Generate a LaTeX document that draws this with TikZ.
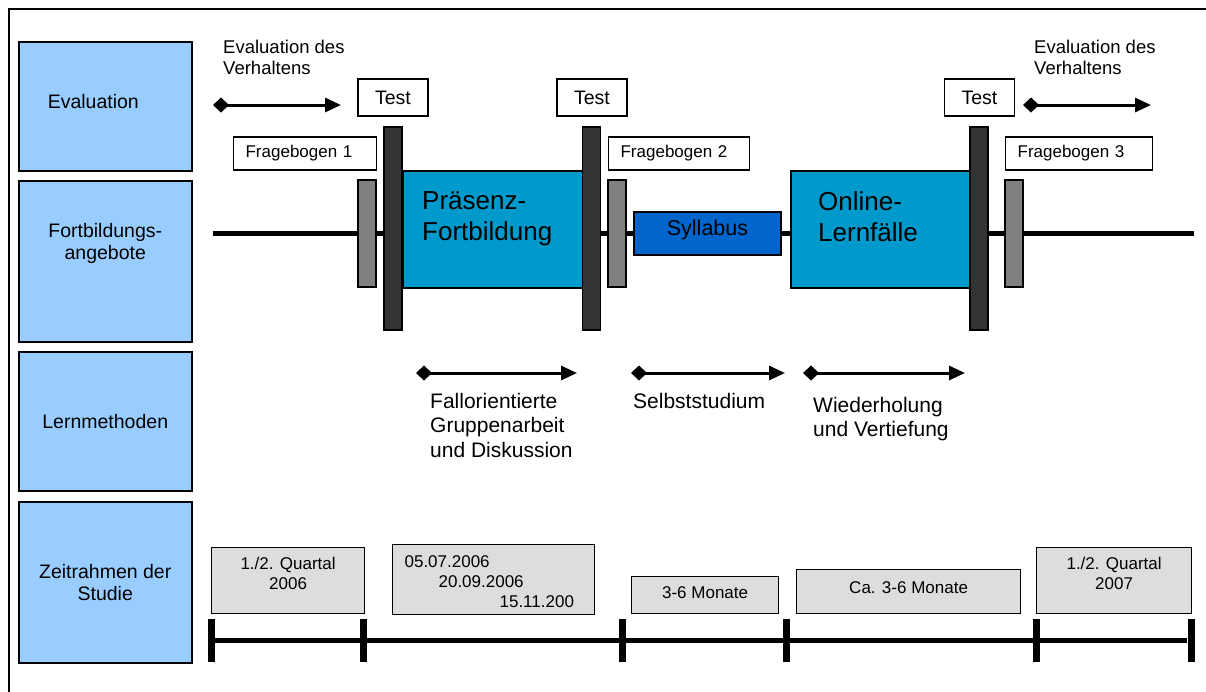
\documentclass[tikz,border=0pt]{standalone}
\usepackage{fontspec}
\setmainfont{Liberation Sans}
\usetikzlibrary{positioning, arrows.meta}
\definecolor{catblue}{RGB}{153,204,255}
\definecolor{phaseblue}{RGB}{0,153,204}
\definecolor{sylblue}{RGB}{0,102,204}
\definecolor{bardark}{RGB}{51,51,51}
\definecolor{bargray}{RGB}{128,128,128}
\definecolor{timegray}{RGB}{221,221,221}
\newcommand{\sizeS}{\fontsize{17}{20}\selectfont}
\newcommand{\sizeM}{\fontsize{19.5}{22}\selectfont}
\newcommand{\sizeL}{\fontsize{21}{24.5}\selectfont}
\newcommand{\sizeXL}{\fontsize{26}{31}\selectfont}

\begin{document}
\begin{tikzpicture}[x=1pt, y=-1pt,
        cat/.style={rectangle, draw, line width=1.5pt, fill=catblue, minimum width=173pt, anchor=north west, inner sep=0pt, align=center, font=\sizeM},
        phase/.style={rectangle, draw, line width=1.5pt, fill=phaseblue, anchor=north west, minimum height=117pt},
        phasetext/.style={anchor=north west, inner sep=0pt, align=left, font=\sizeXL},
        testbox/.style={rectangle, draw, line width=1.5pt, fill=white, minimum width=70pt, minimum height=37pt, font=\sizeM},
        fbox/.style={rectangle, draw, line width=1.2pt, fill=white, anchor=west, minimum height=33pt, inner xsep=12pt, align=left, font=\sizeS},
        darkbar/.style={rectangle, draw, line width=1.2pt, fill=bardark, minimum width=18pt, minimum height=203pt, inner sep=0pt},
        graybar/.style={rectangle, draw, line width=1.2pt, fill=bargray, minimum width=18pt, minimum height=107pt, inner sep=0pt},
        evtext/.style={anchor=north west, inner sep=0pt, align=left, font=\fontsize{18.5}{21}\selectfont},
        lmtext/.style={inner sep=0pt, align=left, font=\sizeL},
        evarrow/.style={line width=3pt, {Diamond[length=16pt,width=15pt]}-{Triangle[length=16pt,width=14pt]}},
        tbox/.style={rectangle, draw, line width=1.2pt, fill=timegray, anchor=north west, inner sep=0pt, align=center, font=\sizeS},
        tickbar/.style={rectangle, fill=black, minimum width=7pt, minimum height=43pt, inner sep=0pt}
    ]
        \useasboundingbox (0,0) rectangle (1206,691);
        \draw[line width=2pt] (9,700) -- (9,9) -- (1215,9);

        % rows
        \node[cat, minimum height=129pt, text width=115pt, align=left, text depth=9pt] (EVAL) at (18,41) {Evaluation};
        \node[cat, minimum height=161pt, text depth=39pt] (FORT) at (18,180) {Fortbildungs-\\angebote};
        \node[cat, minimum height=139pt] (LERN) at (18,351) {Lernmethoden};
        \node[cat, minimum height=161pt] (ZEIT) at (18,501) {Zeitrahmen der\\Studie};

        % course line
        \coordinate (LS) at (213,233);
        \coordinate (LE) at (1194,233);
        \draw[line width=5pt] (LS) -- (LE);

        \node[phase, minimum width=181pt] (PF) at (402,170) {};
        \node[phase, minimum width=180pt] (OL) at (790,170) {};
        \node[rectangle, draw, line width=1.5pt, fill=sylblue, minimum width=147pt, minimum height=43pt, font=\fontsize{21.5}{25}\selectfont, text depth=11pt] (SYL) at (707.5,233.5) {Syllabus};
        \node[phasetext] (PFT) at (422,191) {Präsenz-\\Fortbildung};
        \node[phasetext] (OLT) at (818,191) {Online-\\Lernfälle};

        \node[testbox] (T1) at (393,97.5) {Test};
        \node[testbox] (T2) at (592,97.5) {Test};
        \node[testbox] (T3) at (979.5,97.5) {Test};

        \node[fbox, text width=119pt] (FB1) at (233,153.5) {Fragebogen 1};
        \node[fbox, text width=117pt] (FB2) at (608,153.5) {Fragebogen 2};
        \node[fbox, text width=123pt] (FB3) at (1005,153.5) {Fragebogen 3};

        \node[graybar] (G1) at (367,233.5) {};
        \node[darkbar] (D1) at (393,228.5) {};
        \node[darkbar] (D2) at (591.5,228.5) {};
        \node[graybar] (G2) at (617,233.5) {};
        \node[darkbar] (D3) at (979,228.5) {};
        \node[graybar] (G3) at (1014,233.5) {};

        % evaluation
        \node[evtext] (EV1) at (223,39.5) {Evaluation des\\Verhaltens};
        \node[evtext] (EV2) at (1034,39.5) {Evaluation des\\Verhaltens};
        \coordinate (EA1s) at (213,105);
        \coordinate (EA1e) at (341,105);
        \coordinate (EA2s) at (1023,105);
        \coordinate (EA2e) at (1151,105);
        \draw[evarrow] (EA1s) -- (EA1e);
        \draw[evarrow] (EA2s) -- (EA2e);

        % methods
        \coordinate (LA1s) at (416,373);
        \coordinate (LA1e) at (577,373);
        \coordinate (LA2s) at (631,373);
        \coordinate (LA2e) at (785,373);
        \coordinate (LA3s) at (803,373);
        \coordinate (LA3e) at (965,373);
        \draw[evarrow] (LA1s) -- (LA1e);
        \draw[evarrow] (LA2s) -- (LA2e);
        \draw[evarrow] (LA3s) -- (LA3e);
        \node[lmtext, below right=20pt and 14pt of LA1s] (LM1) {Fallorientierte\\Gruppenarbeit\\und Diskussion};
        \node[lmtext, below right=20pt and 2pt of LA2s] (LM2) {Selbststudium};
        \node[lmtext, below right=24pt and 10pt of LA3s] (LM3) {Wiederholung\\und Vertiefung};

        % time frame
        \foreach \x [count=\i] in {211,363,622,786,1036,1191} {
            \node[tickbar] (Z\i) at (\x,640) {};
        }
        \draw[line width=5pt] (Z1) -- (Z6);

        \node[tbox, minimum width=153pt, minimum height=66pt, text depth=14pt] (P1) at (211,547) {1./2. Quartal\\2006};
        \node[tbox, minimum width=202pt, minimum height=70pt, text width=178pt, inner xsep=12pt, align=left, text depth=36pt] (P2) at (392,544) {05.07.2006\\\hspace*{34pt}20.09.2006\\\hspace*{95pt}15.11.200};
        \node[tbox, minimum width=147pt, minimum height=37pt, text depth=5pt] (P3) at (631,576) {3-6 Monate};
        \node[tbox, minimum width=224pt, minimum height=44pt, text depth=8pt] (P4) at (796,569) {Ca. 3-6 Monate};
        \node[tbox, minimum width=155pt, minimum height=66pt, text depth=14pt] (P5) at (1036,547) {1./2. Quartal\\2007};
    \end{tikzpicture}
\end{document}
